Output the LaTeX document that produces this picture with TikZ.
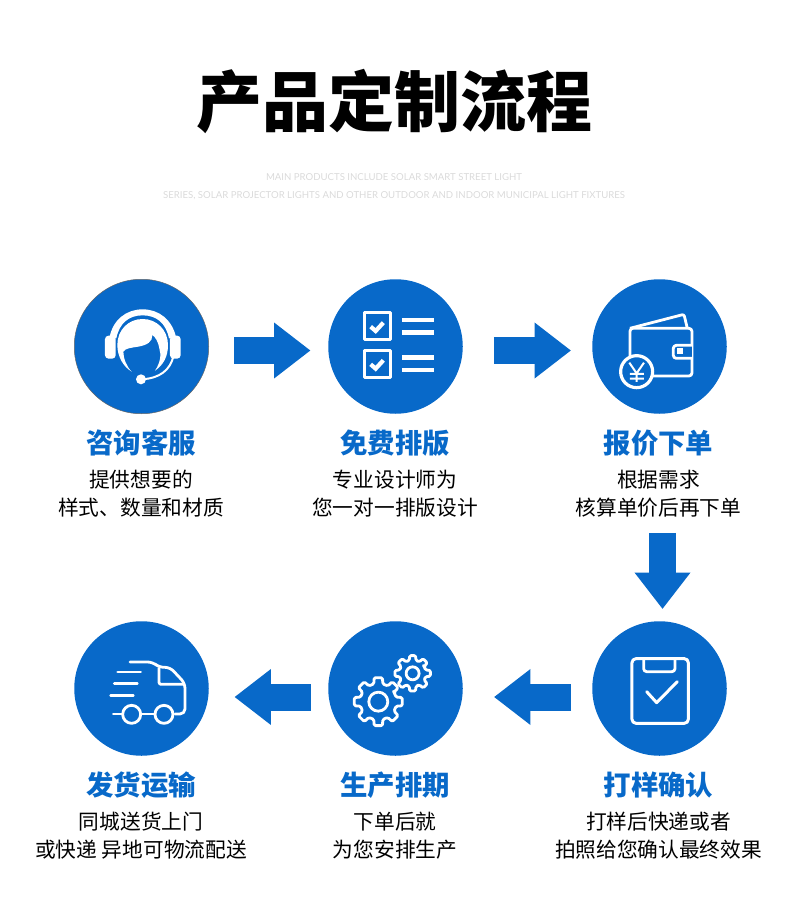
\documentclass[tikz,border=0pt]{standalone}
\usepackage{fontspec}
\usepackage{xcolor}
\setmainfont{Noto Sans CJK SC}
\newfontfamily\latinfont{Lato}
\usetikzlibrary{arrows.meta}
\definecolor{stepblue}{HTML}{0869C9}
\definecolor{subgray}{HTML}{DADADA}
% gear outline: centre x, centre y, root radius, tip radius
\newcommand{\gearpath}[4]{
    \draw[iconline,fill=stepblue,rounded corners=1.4pt] ({#1+#3*cos(-30)},{#2+#3*sin(-30)})
    \foreach \a in {0,45,...,315} {
        -- ({#1+#3*cos(\a-14)},{#2+#3*sin(\a-14)})
        -- ({#1+#4*cos(\a-10)},{#2+#4*sin(\a-10)})
        -- ({#1+#4*cos(\a+10)},{#2+#4*sin(\a+10)})
        -- ({#1+#3*cos(\a+14)},{#2+#3*sin(\a+14)})
    } -- cycle;
}
\begin{document}
\begin{tikzpicture}[x=1pt,y=-1pt,
    stepcircle/.style={circle,fill=stepblue,minimum size=134.5pt,inner sep=0pt},
    flowarrow/.style={draw=stepblue,line width=27pt,-{Triangle[length=36.5pt,width=53.5pt,fill=stepblue]}},
    headtext/.style={text=stepblue,font=\fontsize{27.4}{30}\selectfont\bfseries},
    bodytext/.style={align=center,inner sep=0pt,font=\fontsize{20.7}{28}\selectfont},
    subtext/.style={text=subgray,inner sep=0pt,font=\latinfont\fontsize{9.6}{12}\selectfont},
    iconline/.style={draw=white,line width=2.8pt,line join=round},
    zoomed/.style={x=0.3333pt,y=-0.3333pt}]
    \useasboundingbox (0,0) rectangle (790,917);

    % Title
    \node[font=\fontsize{66}{70}\selectfont\bfseries] (title) at (394,101) {产品定制流程};
    \node[subtext] (sub1) at (394,177.5) {MAIN PRODUCTS INCLUDE SOLAR SMART STREET LIGHT};
    \node[subtext] (sub2) at (394,196) {SERIES, SOLAR PROJECTOR LIGHTS AND OTHER OUTDOOR AND INDOOR MUNICIPAL LIGHT FIXTURES};

    % Circles
    \foreach \name/\x/\y in {kefu/141.5/346.5, paiban/395.5/346.5, xiadan/659.5/346.5, queren/659.5/688.5, shengchan/395.5/688.5, fahuo/141.5/688.5} {
        \node[stepcircle] (\name) at (\x,\y) {};
    }
    \draw[gray!80!black,line width=0.5pt] (kefu) circle (67.25pt);

    % Labels
    \foreach \name/\x/\y/\head/\body in {
        a/141/443/咨询客服/{提供想要的\\样式、数量和材质},
        b/395/443/免费排版/{专业设计师为\\您一对一排版设计},
        c/658.5/443/报价下单/{根据需求\\核算单价后再下单},
        d/658.5/785/打样确认/{打样后快递或者\\拍照给您确认最终效果},
        e/395/785/生产排期/{下单后就\\为您安排生产},
        f/141/785/发货运输/{同城送货上门\\或快递 异地可物流配送}} {
        \node[headtext] (head\name) at (\x,\y) {\head};
        \node[bodytext] (body\name) at (\x,\y+51) {\body};
    }

    % Arrows
    \draw[flowarrow,shorten <=25.5pt,shorten >=17.5pt] ([yshift=-4pt]kefu.east) -- ([yshift=-4pt]paiban.west);
    \draw[flowarrow,shorten <=31pt,shorten >=21pt] ([yshift=-4pt]paiban.east) -- ([yshift=-4pt]xiadan.west);
    \draw[flowarrow,shorten <=119pt,shorten >=12pt] ([xshift=3pt]xiadan.south) -- ([xshift=3pt]queren.north);
    \draw[flowarrow,shorten <=21pt,shorten >=31pt] ([yshift=-8.5pt]queren.west) -- ([yshift=-8.5pt]shengchan.east);
    \draw[flowarrow,shorten <=17.5pt,shorten >=25.5pt] ([yshift=-8.5pt]shengchan.west) -- ([yshift=-8.5pt]fahuo.east);

    % Headset
    \begin{scope}[shift={(60,270)},zoomed]
        \fill[white] (148,205) .. controls (158,148) and (200,118) .. (248,118) .. controls (296,118) and (337,148) .. (349,205) -- (327,205) .. controls (318,160) and (290,136) .. (248,136) .. controls (206,136) and (178,160) .. (169,205) -- cycle;
        \fill[white] (215,305) .. controls (190,290) and (172,260) .. (172,225) .. controls (172,180) and (205,147) .. (248,147) .. controls (290,147) and (324,180) .. (324,225) .. controls (324,260) and (310,285) .. (285,302) .. controls (300,280) and (305,255) .. (298,235) .. controls (295,215) and (285,200) .. (277,195) .. controls (278,215) and (262,225) .. (235,230) .. controls (215,233) and (195,235) .. (190,245) .. controls (190,265) and (200,290) .. (215,305) -- cycle;
        \fill[white,rounded corners=3.5pt] (135,197) rectangle (167,266);
        \fill[white,rounded corners=3.5pt] (330,197) rectangle (362,266);
        \draw[white,line width=2pt] (340,260) .. controls (330,300) and (300,325) .. (245,328);
        \fill[white] (243,328) circle (5pt);
    \end{scope}

    % Checklist
    \begin{scope}[shift={(320,270)},zoomed]
        \foreach \y in {0,113} {
            \draw[iconline] (133,128+\y) rectangle (212,209+\y);
            \draw[white,line width=4.2pt] (152,170+\y) -- (167,183+\y) -- (190,158+\y);
            \draw[white,line width=4.5pt] (246,150+\y) -- (342,150+\y);
            \draw[white,line width=4.5pt] (246,187+\y) -- (342,187+\y);
        }
    \end{scope}

    % Wallet
    \begin{scope}[shift={(320,270)},zoomed]
        \draw[iconline,rounded corners=3pt] (930,175) -- (1116,175) -- (1116,318) -- (930,318) -- cycle;
        \draw[iconline,rounded corners=2pt] (930,175) -- (1092,133) -- (1102,175);
        \draw[iconline,fill=stepblue,rounded corners=3pt] (1116,226) -- (1060,226) -- (1060,265) -- (1116,265);
        \fill[white] (1072,235) rectangle (1088,252);
        \draw[white,line width=3.2pt,fill=stepblue] (950,305) circle (16pt);
        \draw[white,line width=2pt] (928,278) -- (950,310) -- (972,278) (950,310) -- (950,336) (930,312) -- (972,312) (930,326) -- (972,326);
    \end{scope}

    % Clipboard
    \begin{scope}[shift={(480,520)},zoomed]
        \draw[iconline,line width=3pt,rounded corners=4pt] (456,416) rectangle (625,610);
        \draw[iconline,rounded corners=3pt] (491,416) -- (491,455) -- (585,455) -- (585,416);
        \draw[white,line width=3pt,line cap=round,line join=round] (500,515) -- (530,548) -- (592,485);
    \end{scope}

    % Gears
    \begin{scope}[shift={(60,610)},zoomed]
        \gearpath{1058}{190}{40}{54}
        \draw[iconline] (1058,190) circle (6.5pt);
        \gearpath{955}{275}{55}{73}
        \draw[iconline] (955,275) circle (9.5pt);
    \end{scope}

    % Truck
    \begin{scope}[shift={(60,610)},zoomed]
        \draw[iconline,rounded corners=5pt,line cap=round] (210,156) -- (278,156) -- (297,172) -- (330,172) -- (375,220) -- (375,312) -- (345,312);
        \draw[iconline,rounded corners=2pt] (297,172) -- (297,223) -- (375,223);
        \draw[iconline] (215,313) circle (9pt);
        \draw[iconline] (312,313) circle (9pt);
        \draw[iconline,line cap=round] (160,312) -- (188,312) (242,312) -- (285,312);
        \foreach \xa/\xb/\y in {173/242/186, 163/232/220, 152/220/256} {
            \draw[iconline,line cap=round] (\xa,\y) -- (\xb,\y);
        }
    \end{scope}
\end{tikzpicture}
\end{document}
